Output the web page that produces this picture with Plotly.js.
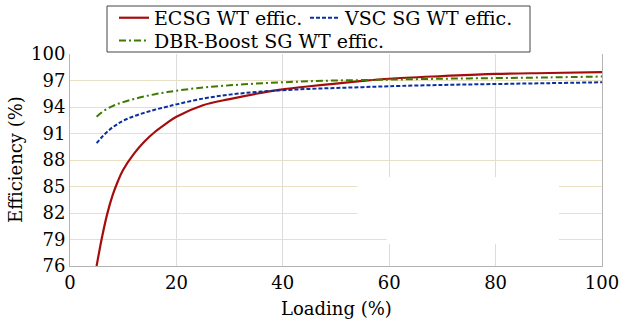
<!DOCTYPE html>
<html>
<head>
<meta charset="utf-8">
<script src="https://cdn.plot.ly/plotly-3.0.1.min.js"></script>
<style>
  html, body { margin: 0; padding: 0; background: #fff; }
  #chart { width: 620px; height: 322px; }
</style>
</head>
<body>
<div id="chart"></div>
<script>
// Loading (%)
const loading = [5, 6, 7, 8, 9, 10, 12, 14, 16, 18, 20, 25, 30, 35, 40, 45, 50, 55, 60, 70, 80, 90, 100];
// Efficiency (%) series
const ecsgEff  = [76.0, 79.2, 81.9, 84.0, 85.6, 86.9, 88.7, 90.1, 91.2, 92.1, 92.9, 94.2, 94.9, 95.5, 96.0, 96.35, 96.65, 96.95, 97.2, 97.5, 97.75, 97.85, 97.95];
const vscEff   = [89.9, 90.6, 91.2, 91.7, 92.1, 92.45, 92.95, 93.35, 93.7, 94.0, 94.3, 94.95, 95.4, 95.7, 95.9, 96.05, 96.15, 96.25, 96.35, 96.5, 96.6, 96.7, 96.8];
const dbrEff   = [92.9, 93.4, 93.8, 94.1, 94.35, 94.55, 94.9, 95.2, 95.45, 95.65, 95.85, 96.2, 96.45, 96.65, 96.8, 96.92, 97.0, 97.05, 97.1, 97.2, 97.27, 97.35, 97.45];
const seriesNames = ["ECSG WT effic.", "VSC SG WT effic.", "DBR-Boost SG WT effic."];
const xTicks = [0, 20, 40, 60, 80, 100];
const yTicks = [76, 79, 82, 85, 88, 91, 94, 97, 100];
const xTitle = "Loading (%)";
const yTitle = "Efficiency (%)";

const FONT = "DejaVu Serif";
const FS = 18;      // axis text
const FS_LEG = 19;  // legend text

const traces = [
  { x: loading, y: ecsgEff, name: seriesNames[0], mode: "lines", legend: "legend",
    line: { color: "#a50d0d", width: 2.2, shape: "spline" } },
  { x: loading, y: vscEff, name: seriesNames[1], mode: "lines", legend: "legend3",
    line: { color: "#0a2fa0", width: 2, dash: "4px,2px", shape: "spline" } },
  { x: loading, y: dbrEff, name: seriesNames[2], mode: "lines", legend: "legend2",
    line: { color: "#3f7a00", width: 2, dash: "7px,3px,2px,3px", shape: "spline" } }
];

const legendCommon = {
  orientation: "h",
  xanchor: "left",
  yanchor: "top",
  bgcolor: "rgba(0,0,0,0)",
  borderwidth: 0,
  font: { family: FONT, size: FS_LEG, color: "#000" }
};

const layout = {
  width: 620, height: 322,
  margin: { l: 70, r: 18, t: 54, b: 56, autoexpand: false },
  paper_bgcolor: "#ffffff",
  plot_bgcolor: "#ffffff",
  font: { family: FONT, size: FS, color: "#000" },
  showlegend: true,
  legend: Object.assign({}, legendCommon, { x: 0.0827, y: 1.26 }),
  legend3: Object.assign({}, legendCommon, { x: (305 - 70) / 532, y: 1.26 }),
  legend2: Object.assign({}, legendCommon, { x: 0.0827, y: 1.153 }),
  xaxis: {
    range: [0, 100],
    tickvals: xTicks,
    ticktext: xTicks.map(String),
    ticklabeloverflow: "allow",
    showgrid: true, gridcolor: "#dcdcdc", gridwidth: 1,
    showline: true, linecolor: "#b4b4b4", linewidth: 1, mirror: false,
    zeroline: false, ticks: "",
    tickfont: { family: FONT, size: FS, color: "#000" }
  },
  yaxis: {
    range: [76, 100],
    tickvals: yTicks,
    ticktext: yTicks.map(String),
    ticklabeloverflow: "allow",
    showgrid: true, gridcolor: "#e8e0c4", gridwidth: 1,
    showline: true, linecolor: "#b4b4b4", linewidth: 1, mirror: true,
    zeroline: false, ticks: "",
    tickfont: { family: FONT, size: FS, color: "#000" }
  },
  annotations: [
    { text: xTitle, xref: "paper", yref: "paper", x: 0.5, y: (266 - 308) / 212,
      xanchor: "center", yanchor: "middle", showarrow: false,
      font: { family: FONT, size: FS, color: "#000" } },
    { text: yTitle, xref: "paper", yref: "paper", x: (15 - 70) / 532, y: 0.5,
      xanchor: "center", yanchor: "middle", textangle: -90, showarrow: false,
      font: { family: FONT, size: FS, color: "#000" } }
  ],
  shapes: [
    // legend frame
    { type: "rect", xref: "paper", yref: "paper",
      x0: (107 - 70) / 532, x1: (530 - 70) / 532,
      y0: (266 - 52) / 212, y1: (266 - 6) / 212,
      fillcolor: "#ffffff", line: { color: "#444444", width: 1 }, layer: "above" },
    // blank patch inside plot
    { type: "rect", xref: "x", yref: "y", x0: 54.0, x1: 91.9, y0: 80.4, y1: 86.05,
      fillcolor: "#ffffff", line: { width: 0 }, layer: "between" },
    { type: "rect", xref: "x", yref: "y", x0: 59.5, x1: 91.9, y0: 78.5, y1: 86.05,
      fillcolor: "#ffffff", line: { width: 0 }, layer: "between" }
  ]
};

Plotly.newPlot("chart", traces, layout, { displayModeBar: false, staticPlot: true });
</script>
</body>
</html>
